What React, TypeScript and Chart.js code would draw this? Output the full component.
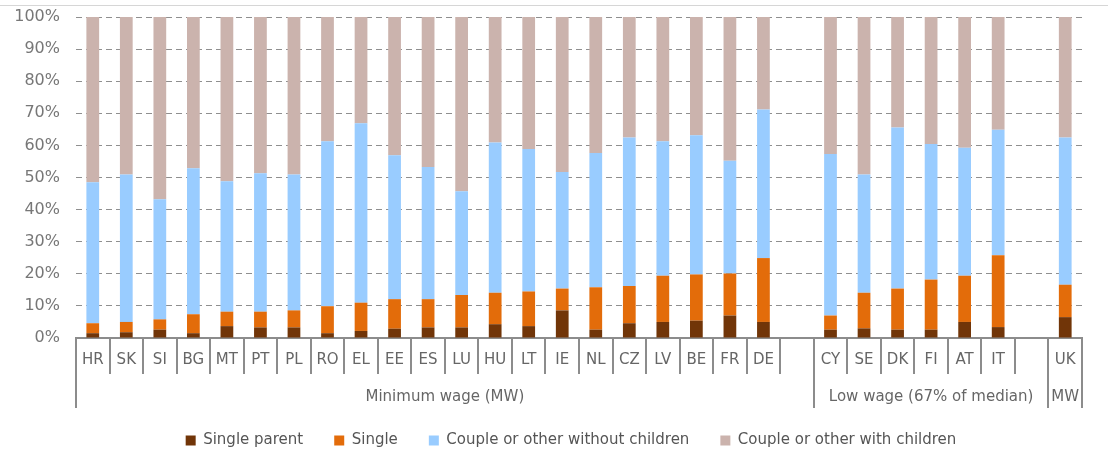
import React, { useEffect, useRef } from 'react';
import { Chart, registerables } from 'chart.js';

Chart.register(...registerables);

const categories = ['HR', 'SK', 'SI', 'BG', 'MT', 'PT', 'PL', 'RO', 'EL', 'EE', 'ES', 'LU', 'HU', 'LT', 'IE', 'NL', 'CZ', 'LV', 'BE', 'FR', 'DE', '', 'CY', 'SE', 'DK', 'FI', 'AT', 'IT', '', 'UK'];

const singleParent = [1.5, 1.8, 2.6, 1.5, 3.7, 3.3, 3.3, 1.5, 2.2, 2.9, 3.3, 3.3, 4.3, 3.7, 8.6, 2.6, 4.6, 5.0, 5.4, 7.0, 5.0, null, 2.6, 3.0, 2.6, 2.6, 5.0, 3.4, null, 6.5];
const single = [3.1, 3.2, 3.2, 5.9, 4.5, 4.9, 5.3, 8.4, 8.8, 9.2, 8.8, 10.1, 9.8, 10.8, 6.8, 13.2, 11.6, 14.4, 14.4, 13.1, 19.9, null, 4.4, 11.1, 12.8, 15.6, 14.4, 22.4, null, 10.1];
const coupleWithoutChildren = [43.9, 45.9, 37.4, 45.5, 40.6, 43.1, 42.3, 51.4, 55.9, 44.8, 41.2, 32.3, 46.8, 44.4, 36.3, 41.8, 46.3, 41.9, 43.4, 35.1, 46.3, null, 50.3, 36.8, 50.2, 42.2, 39.9, 39.1, null, 45.9];
const coupleWithChildren = [51.5, 49.1, 56.8, 47.1, 51.2, 48.7, 49.1, 38.7, 33.1, 43.1, 46.7, 54.3, 39.1, 41.1, 48.3, 42.4, 37.5, 38.7, 36.8, 44.8, 28.8, null, 42.7, 49.1, 34.4, 39.6, 40.7, 35.1, null, 37.5];

const seriesNames = ['Single parent', 'Single', 'Couple or other without children', 'Couple or other with children'];
const seriesColors = ['#713508', '#E36C0A', '#99CCFF', '#CBB3AD'];

const groupLabels = ['Minimum wage (MW)', 'Low wage (67% of median)', 'MW'];
const groupStart = [0, 22, 29];
const groupEnd = [21, 28, 29];

const yMin = 0;
const yMax = 100;
const yStep = 10;

const FONT = '"DejaVu Sans", sans-serif';

const multiAxisPlugin = {
  id: 'multiAxis',
  afterLayout(chart: any) {
    const lg = chart.legend;
    if (lg) {
      lg.left -= 8;
      lg.right -= 8;
    }
  },
  beforeDraw(chart: any) {
    const ctx = chart.ctx;
    ctx.save();
    ctx.strokeStyle = '#d6d6d6';
    ctx.lineWidth = 1;
    ctx.beginPath();
    ctx.moveTo(0, 5.5);
    ctx.lineTo(chart.width, 5.5);
    ctx.stroke();
    ctx.restore();
  },
  afterDraw(chart: any) {
    const ctx = chart.ctx;
    const xs = chart.scales.x;
    const bottom = chart.chartArea.bottom;
    const n = categories.length;
    const bounds = new Set<number>();
    groupStart.forEach((s) => bounds.add(s));
    groupEnd.forEach((e) => bounds.add(e + 1));
    ctx.save();
    ctx.strokeStyle = '#8c8c8c';
    ctx.lineWidth = 2;
    for (let i = 0; i <= n; i++) {
      const px = Math.round(xs.getPixelForValue(i - 0.5));
      const len = bounds.has(i) ? 70 : 36;
      ctx.beginPath();
      ctx.moveTo(px, bottom);
      ctx.lineTo(px, bottom + len);
      ctx.stroke();
    }
    ctx.fillStyle = '#666666';
    ctx.font = `15px ${FONT}`;
    ctx.textAlign = 'center';
    ctx.textBaseline = 'middle';
    categories.forEach((c, i) => {
      if (c) ctx.fillText(c, xs.getPixelForValue(i), bottom + 22);
    });
    groupLabels.forEach((g, k) => {
      const a = xs.getPixelForValue(groupStart[k] - 0.5);
      const b = xs.getPixelForValue(groupEnd[k] + 0.5);
      ctx.fillText(g, (a + b) / 2, bottom + 59);
    });
    ctx.restore();
  },
};

export default function App() {
  const ref = useRef<HTMLCanvasElement | null>(null);

  useEffect(() => {
    document.body.style.margin = '0';
    const canvas = ref.current;
    if (!canvas) return;
    const seriesData = [singleParent, single, coupleWithoutChildren, coupleWithChildren];
    const chart = new Chart(canvas, {
      type: 'bar',
      data: {
        labels: categories,
        datasets: seriesNames.map((name, i) => ({
          label: name,
          data: seriesData[i],
          backgroundColor: seriesColors[i],
          borderWidth: 0,
          categoryPercentage: 1,
          barPercentage: 0.38,
        })),
      },
      options: {
        responsive: false,
        animation: false,
        events: [],
        layout: { padding: { left: 0, right: 26, top: 17, bottom: -6 } },
        plugins: {
          tooltip: { enabled: false },
          legend: {
            position: 'bottom',
            fullSize: false,
            labels: {
              boxWidth: 10,
              boxHeight: 10,
              padding: 31,
              color: '#555555',
              font: { family: FONT, size: 15 },
            },
          },
        },
        scales: {
          x: {
            stacked: true,
            grid: { display: false },
            border: { display: true, color: '#8c8c8c', width: 2 },
            ticks: { display: false },
            afterFit: (scale: any) => {
              scale.height = 64;
            },
          },
          y: {
            stacked: true,
            min: yMin,
            max: yMax,
            grid: { color: '#8f8f8f', lineWidth: 1, drawTicks: true, tickLength: 16, tickColor: 'rgba(0,0,0,0)' },
            border: { display: false, dash: [6, 4] },
            ticks: {
              stepSize: yStep,
              padding: 0,
              color: '#777777',
              font: { family: FONT, size: 16 },
              callback: (v: any) => `${v}%`,
            },
            afterFit: (scale: any) => {
              scale.width = 76;
            },
          },
        },
      },
      plugins: [multiAxisPlugin],
    });
    return () => chart.destroy();
  }, []);

  return <canvas ref={ref} width={1108} height={452} style={{ display: 'block' }} />;
}
